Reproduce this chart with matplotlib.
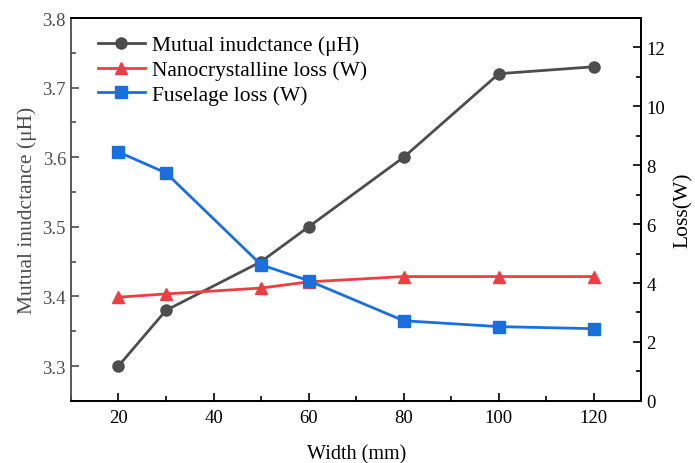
import numpy as np
import matplotlib
matplotlib.use('Agg')

import matplotlib.pyplot as plt
from matplotlib.ticker import MultipleLocator

plt.rcParams['font.family'] = ['Liberation Serif', 'DejaVu Serif']
plt.rcParams['mathtext.fontset'] = 'stix'

width = [20, 30, 50, 60, 80, 100, 120]
mutual = [3.30, 3.38, 3.45, 3.50, 3.60, 3.72, 3.73]
nano_loss = [3.52, 3.63, 3.83, 4.04, 4.22, 4.22, 4.22]
fuselage_loss = [8.45, 7.74, 4.62, 4.08, 2.72, 2.52, 2.45]

grey = '#4d4d4d'
red = '#ef3e42'
blue = '#1a6fdf'

fig = plt.figure(figsize=(6.95, 4.64), dpi=100)
ax = fig.add_axes([0.102, 0.134, 0.821, 0.825])
ax2 = ax.twinx()

l1, = ax.plot(width, mutual, color=grey, marker='o', markersize=8, linewidth=2,
              label='Mutual inudctance (\u03bcH)')
l2, = ax2.plot(width, nano_loss, color=red, marker='^', markersize=9, linewidth=2,
               label='Nanocrystalline loss (W)')
l3, = ax2.plot(width, fuselage_loss, color=blue, marker='s', markersize=8, linewidth=2,
               label='Fuselage loss (W)')

ax.set_xlim(10, 130)
ax.set_ylim(3.25, 3.8)
ax2.set_ylim(0, 13)

ax.xaxis.set_major_locator(MultipleLocator(20))
ax.xaxis.set_minor_locator(MultipleLocator(10))
ax.yaxis.set_major_locator(MultipleLocator(0.1))
ax.yaxis.set_minor_locator(MultipleLocator(0.05))
ax2.yaxis.set_major_locator(MultipleLocator(2))
ax2.yaxis.set_minor_locator(MultipleLocator(1))

ax.tick_params(axis='both', which='major', direction='in', length=6, width=1.2, labelsize=13.5)
ax.tick_params(axis='both', which='minor', direction='in', length=3.5, width=1.2)
ax.tick_params(axis='x', top=False, which='both', pad=6)
ax.tick_params(axis='y', colors=grey, which='both')
ax2.tick_params(axis='y', which='major', direction='in', length=6, width=1.2, labelsize=13.5)
ax2.tick_params(axis='y', which='minor', direction='in', length=3.5, width=1.2)

for s in ['top', 'bottom', 'right']:
    ax.spines[s].set_linewidth(1.3)
    ax2.spines[s].set_linewidth(1.3)
ax2.spines['left'].set_visible(False)
ax.spines['left'].set_color(grey)
ax.spines['left'].set_linewidth(1.3)

ax.set_xlabel('Width (mm)', fontsize=14.5, labelpad=13)
ax.set_ylabel('Mutual inudctance (\u03bcH)', fontsize=15.5, color=grey, labelpad=4)
ax2.set_ylabel('Loss(W)', fontsize=15.5, labelpad=6)

ax.legend(handles=[l1, l2, l3], loc='upper left', bbox_to_anchor=(0.017, 1.0),
          frameon=False, fontsize=15.5, handlelength=2.2, handletextpad=0.3,
          labelspacing=0.22, borderaxespad=0.4)

plt.savefig('out.png', dpi=100)
